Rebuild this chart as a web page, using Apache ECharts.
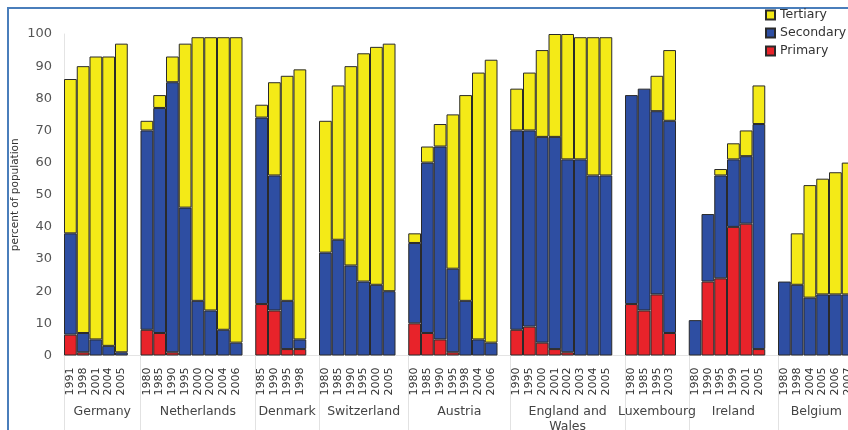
<!DOCTYPE html>
<html>
<head>
<meta charset="utf-8">
<script src="https://cdn.jsdelivr.net/npm/echarts@6/dist/echarts.min.js"></script>
<style>
  html, body { margin: 0; padding: 0; background: #fff; overflow: hidden; width: 848px; height: 430px; }
  #chart { width: 880px; height: 430px; }
</style>
</head>
<body>
<div id="chart"></div>
<script>
// Employment by sector, share of population, per country and survey year
const countries = ['Germany', 'Netherlands', 'Denmark', 'Switzerland', 'Austria',
  'England and\nWales', 'Luxembourg', 'Ireland', 'Belgium'];

const yearLabels = [
  ['1991', '1998', '2001', '2004', '2005'],
  ['1980', '1985', '1990', '1995', '2000', '2002', '2004', '2006'],
  ['1985', '1990', '1995', '1998'],
  ['1980', '1985', '1990', '1995', '2000', '2005'],
  ['1980', '1985', '1990', '1995', '1998', '2004', '2006'],
  ['1990', '1995', '2000', '2001', '2002', '2003', '2004', '2005'],
  ['1980', '1985', '1995', '2003'],
  ['1980', '1990', '1995', '1999', '2001', '2005'],
  ['1980', '1998', '2004', '2005', '2006', '2007']
];

const primaryShare = [
  [6.5, 1, 0, 0, 0],
  [8, 7, 1, 0, 0, 0, 0, 0],
  [16, 14, 2, 2],
  [0, 0, 0, 0, 0, 0],
  [10, 7, 5, 1, 0, 0, 0],
  [8, 9, 4, 2, 1, 0, 0, 0],
  [16, 14, 19, 7],
  [0, 23, 24, 40, 41, 2],
  [0, 0, 0, 0, 0, 0]
];

const secondaryShare = [
  [31.5, 6, 5, 3, 1],
  [62, 70, 84, 46, 17, 14, 8, 4],
  [58, 42, 15, 3],
  [32, 36, 28, 23, 22, 20],
  [25, 53, 60, 26, 17, 5, 4],
  [62, 61, 64, 66, 60, 61, 56, 56],
  [65, 69, 57, 66],
  [11, 21, 32, 21, 21, 70],
  [23, 22, 18, 19, 19, 19]
];

const tertiaryShare = [
  [48, 83, 88, 90, 96],
  [3, 4, 8, 51, 82, 85, 91, 95],
  [4, 29, 70, 84],
  [41, 48, 62, 71, 74, 77],
  [3, 5, 7, 48, 64, 83, 88],
  [13, 18, 27, 32, 39, 38, 43, 43],
  [0, 0, 11, 22],
  [0, 0, 2, 5, 8, 12],
  [0, 16, 35, 36, 38, 41]
];

const yTicks = [0, 10, 20, 30, 40, 50, 60, 70, 80, 90, 100];

// Flatten the groups onto one category axis, leaving an empty slot between countries
const categories = [], primary = [], secondary = [], tertiary = [];
const groupStarts = [];
const orNone = v => (v === 0 ? '-' : v);
countries.forEach((c, i) => {
  if (i > 0) {
    categories.push('');
    primary.push('-'); secondary.push('-'); tertiary.push('-');
  }
  groupStarts.push(categories.length);
  yearLabels[i].forEach((y, j) => {
    categories.push(y);
    primary.push(orNone(primaryShare[i][j]));
    secondary.push(orNone(secondaryShare[i][j]));
    tertiary.push(orNone(tertiaryShare[i][j]));
  });
});
const slotCount = categories.length;
const groupCenters = groupStarts.map((s, i) =>
  (s + (i + 1 < groupStarts.length ? groupStarts[i + 1] : slotCount)) / 2);

const SLOT = 12.75;
const font = 'DejaVu Sans, Verdana, sans-serif';
const barBorder = { borderColor: '#2a2a2a', borderWidth: 1 };

const chart = echarts.init(document.getElementById('chart'), null, { renderer: 'canvas' });
chart.setOption({
  animation: false,
  backgroundColor: '#fff',
  graphic: [{
    type: 'polyline',
    silent: true,
    shape: { points: [[8, 460], [8, 8], [900, 8]] },
    style: { stroke: '#4a7ebb', lineWidth: 2, fill: null }
  }],
  legend: {
    data: ['Tertiary', 'Secondary', 'Primary'],
    orient: 'vertical',
    left: 765,
    top: 8,
    padding: 0,
    itemWidth: 9,
    itemHeight: 9,
    itemGap: 4,
    icon: 'rect',
    textStyle: { fontFamily: font, fontSize: 12.5, color: '#333', lineHeight: 14 }
  },
  grid: {
    left: 64, top: 34, width: slotCount * SLOT, height: 321.5,
    outerBoundsMode: 'none', containLabel: false
  },
  xAxis: [{
    type: 'category',
    data: categories,
    boundaryGap: true,
    axisLine: { show: true, lineStyle: { color: '#e4e4e4', width: 1 } },
    axisTick: { show: false },
    axisLabel: {
      interval: 0, rotate: 90, margin: 12,
      fontFamily: font, fontSize: 11, color: '#333'
    }
  }, {
    type: 'value',
    position: 'bottom',
    min: 0,
    max: slotCount,
    splitLine: { show: false },
    axisLine: { show: false },
    axisTick: {
      show: true, customValues: groupStarts, length: 80,
      lineStyle: { color: '#e2e2e2', width: 1 }
    },
    axisLabel: {
      customValues: groupCenters,
      margin: 49,
      fontFamily: font, fontSize: 12.5, color: '#444', lineHeight: 15,
      verticalAlign: 'top',
      formatter: v => {
        const k = groupCenters.findIndex(c => Math.abs(c - v) < 0.01);
        return k >= 0 ? countries[k] : '';
      }
    }
  }],
  yAxis: {
    type: 'value',
    min: 0, max: 100, interval: 10,
    name: 'percent of population',
    nameLocation: 'middle',
    nameGap: 43,
    nameMoveOverlap: false,
    nameTextStyle: { fontFamily: font, fontSize: 10.5, color: '#333' },
    axisLine: { show: true, lineStyle: { color: '#e4e4e4' } },
    axisTick: { show: false },
    splitLine: { show: false },
    axisLabel: {
      margin: 12, fontFamily: font, fontSize: 13, color: '#555',
      customValues: yTicks
    }
  },
  series: [
    { name: 'Primary', type: 'bar', stack: 'sector', data: primary,
      barCategoryGap: '0%', itemStyle: Object.assign({ color: '#e8232a' }, barBorder) },
    { name: 'Secondary', type: 'bar', stack: 'sector', data: secondary,
      barCategoryGap: '0%', itemStyle: Object.assign({ color: '#2e4ea2' }, barBorder) },
    { name: 'Tertiary', type: 'bar', stack: 'sector', data: tertiary,
      barCategoryGap: '0%', itemStyle: Object.assign({ color: '#f4ea17' }, barBorder) }
  ]
});
</script>
</body>
</html>
